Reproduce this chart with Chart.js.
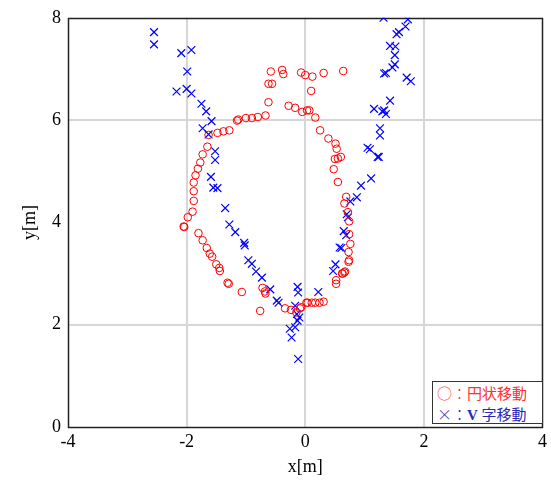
<!DOCTYPE html>
<html>
<head>
<meta charset="utf-8">
<script src="https://cdn.jsdelivr.net/npm/chart.js@4"></script>
<style>
  html, body { margin: 0; padding: 0; background: #fff; }
  #wrap { position: relative; width: 551px; height: 481px; }
  #legend {
    position: absolute; left: 432px; top: 381px; width: 105px; height: 40px;
    border: 1px solid #333; background: #fff;
    font-family: "Liberation Serif", "Noto Sans CJK JP", serif; font-size: 15px; line-height: 20px;
    padding: 1px 0 0 4px; box-sizing: content-box; white-space: nowrap;
  }
  #legend .c { color: #ff3030; }
  #legend .v { color: #2828b8; }
  #legend .s { font-family: "Noto Sans CJK JP", sans-serif; font-weight: 300; }
  #legend b { font-weight: bold; }
</style>
</head>
<body>
<div id="wrap">
  <canvas id="chart" width="551" height="481"></canvas>
  <div id="legend">
    <div class="c"><span class="s">○：</span>円状移動</div>
    <div class="v"><span class="s">×：</span><b>V</b> 字移動</div>
  </div>
</div>
<script>
/* circular movement (red circles) */
var circleX = [-0.58, -0.62, -0.56, -0.62, -0.67, -0.80, -0.90, -1.00, -1.13, -1.15,
  -0.39, -0.37, -0.07, 0.00, 0.12, 0.31, 0.64, 0.10, -0.28, -0.17,
  -0.05, 0.03, 0.07, 0.17, 0.25, 0.39, 0.51, 0.53, 0.50, 0.55,
  0.60, 0.48, 0.55, -1.28, -1.38, -1.48, -1.63, -1.65, -1.73, -1.77,
  -1.81, -1.85, -1.88, -1.88, -1.88, -1.90, -1.98, -2.05, -2.04, -1.80,
  -1.73, -1.66, -1.61, -1.57, -1.50, -1.45, -1.44, -1.31, -1.29, -1.07,
  -0.72, -0.68, -0.67, -0.76, -0.34, -0.24, -0.15, -0.09, -0.07, 0.02,
  0.04, 0.11, 0.17, 0.24, 0.31, 0.52, 0.52, 0.63, 0.67, 0.73,
  0.69, 0.66, 0.72, 0.74, 0.74, 0.76, 0.73, 0.74, 0.62, 0.66];
var circleY = [6.95, 6.71, 6.71, 6.35, 6.09, 6.06, 6.04, 6.04, 6.01, 5.99,
  6.98, 6.90, 6.93, 6.88, 6.85, 6.92, 6.96, 6.57, 6.28, 6.24,
  6.16, 6.19, 6.19, 6.05, 5.80, 5.64, 5.54, 5.44, 5.24, 5.25,
  5.28, 5.04, 4.79, 5.80, 5.78, 5.75, 5.71, 5.48, 5.33, 5.17,
  5.05, 4.92, 4.78, 4.61, 4.42, 4.21, 4.10, 3.92, 3.91, 3.79,
  3.65, 3.50, 3.39, 3.33, 3.18, 3.11, 3.05, 2.82, 2.80, 2.64,
  2.72, 2.65, 2.61, 2.27, 2.32, 2.29, 2.24, 2.32, 2.34, 2.43,
  2.43, 2.43, 2.43, 2.43, 2.45, 2.80, 2.87, 3.00, 3.04, 3.23,
  4.50, 4.37, 4.20, 4.02, 3.77, 3.58, 3.42, 3.26, 3.00, 3.02];

/* V-shaped movement (blue crosses) */
var vX = [-2.55, -2.55, -2.09, -1.92, -1.99, -2.17, -2.00, -1.92, -1.75, -1.67,
  -1.58, -1.73, -1.63, -1.52, -1.52, -1.59, -1.55, -1.48, -1.35, -1.28,
  -1.18, -1.03, -1.02, -0.96, -0.90, -0.83, -0.73, -0.59, -0.48, -0.45,
  -0.13, -0.12, -0.17, -0.14, -0.10, -0.13, -0.26, -0.17, -0.23, -0.12,
  0.22, 0.51, 0.47, 0.58, 0.61, 0.65, 0.69, 0.70, 0.72, 0.76,
  0.87, 0.94, 1.11, 1.05, 1.09, 1.22, 1.24, 1.26, 1.26, 1.16,
  1.30, 1.33, 1.32, 1.73, 1.69, 1.58, 1.54, 1.43, 1.52, 1.51,
  1.51, 1.47, 1.36, 1.71, 1.78, 1.43, 1.33, 1.36];
var vY = [7.72, 7.48, 7.31, 7.37, 6.95, 6.56, 6.61, 6.52, 6.32, 6.17,
  5.98, 5.84, 5.72, 5.39, 5.22, 4.89, 4.68, 4.67, 4.28, 3.96,
  3.81, 3.60, 3.55, 3.26, 3.19, 3.04, 2.92, 2.69, 2.47, 2.43,
  2.74, 2.63, 2.37, 2.21, 2.14, 2.08, 1.92, 1.95, 1.75, 1.33,
  2.64, 3.18, 3.05, 3.51, 3.50, 3.83, 3.75, 4.16, 4.10, 4.41,
  4.49, 4.72, 4.86, 5.46, 5.43, 5.28, 5.28, 5.70, 5.84, 6.22,
  6.17, 6.91, 8.00, 7.97, 7.83, 7.72, 7.68, 7.45, 7.44, 7.27,
  7.09, 7.03, 6.92, 6.83, 6.76, 6.38, 6.19, 6.12];

var xTicks = [-4, -2, 0, 2, 4];
var yTicks = [0, 2, 4, 6, 8];

function toPoints(xs, ys) {
  return xs.map(function (x, i) { return { x: x, y: ys[i] }; });
}

var serif = '"Liberation Serif", "Times New Roman", serif';

/* frame around the plot area */
var frame = {
  id: 'frame',
  beforeDatasetsDraw: function (chart) {
    var a = chart.chartArea, ctx = chart.ctx;
    ctx.save();
    ctx.strokeStyle = '#222';
    ctx.lineWidth = 1.5;
    ctx.strokeRect(Math.round(a.left) + 0.5, Math.round(a.top) + 0.5,
      Math.round(a.right - a.left) - 1, Math.round(a.bottom - a.top));
    ctx.restore();
  }
};

function gridColor(ctx) {
  var v = ctx.tick ? ctx.tick.value : null;
  return (v === -4 || v === 4 || v === 0 && ctx.scale.axis === 'y' || v === 8) ? 'rgba(0,0,0,0)' : '#d6d6d6';
}

new Chart(document.getElementById('chart'), {
  type: 'scatter',
  data: {
    datasets: [
      {
        label: '円状移動',
        data: toPoints(circleX, circleY),
        pointStyle: 'circle',
        pointRadius: 3.8,
        borderColor: '#ff0000',
        backgroundColor: 'rgba(0,0,0,0)',
        borderWidth: 1
      },
      {
        label: 'V 字移動',
        data: toPoints(vX, vY),
        pointStyle: 'crossRot',
        pointRadius: 5.5,
        borderColor: '#0000ff',
        backgroundColor: '#0000ff',
        borderWidth: 1.2
      }
    ]
  },
  options: {
    responsive: false,
    animation: false,
    layout: { padding: { left: 19, right: 4, top: 13, bottom: 3 } },
    plugins: { legend: { display: false }, tooltip: { enabled: false } },
    scales: {
      x: {
        type: 'linear', min: -4, max: 4,
        afterBuildTicks: function (s) { s.ticks = xTicks.map(function (v) { return { value: v }; }); },
        afterFit: function (s) { s.height = 51; },
        grid: { color: gridColor, lineWidth: 2, drawTicks: false },
        border: { display: false },
        ticks: { color: '#000', font: { family: serif, size: 18 }, padding: 4, maxRotation: 0 },
        title: { display: true, text: 'x[m]', color: '#000', font: { family: serif, size: 18 }, padding: 0 }
      },
      y: {
        type: 'linear', min: 0, max: 8,
        afterBuildTicks: function (s) { s.ticks = yTicks.map(function (v) { return { value: v }; }); },
        afterFit: function (s) { s.width = 49; },
        grid: { color: gridColor, lineWidth: 2, drawTicks: false },
        border: { display: false },
        ticks: { color: '#000', font: { family: serif, size: 18 }, padding: 7 },
        title: { display: true, text: 'y[m]', color: '#000', font: { family: serif, size: 18 }, padding: 0 }
      }
    }
  },
  plugins: [frame]
});
</script>
</body>
</html>
